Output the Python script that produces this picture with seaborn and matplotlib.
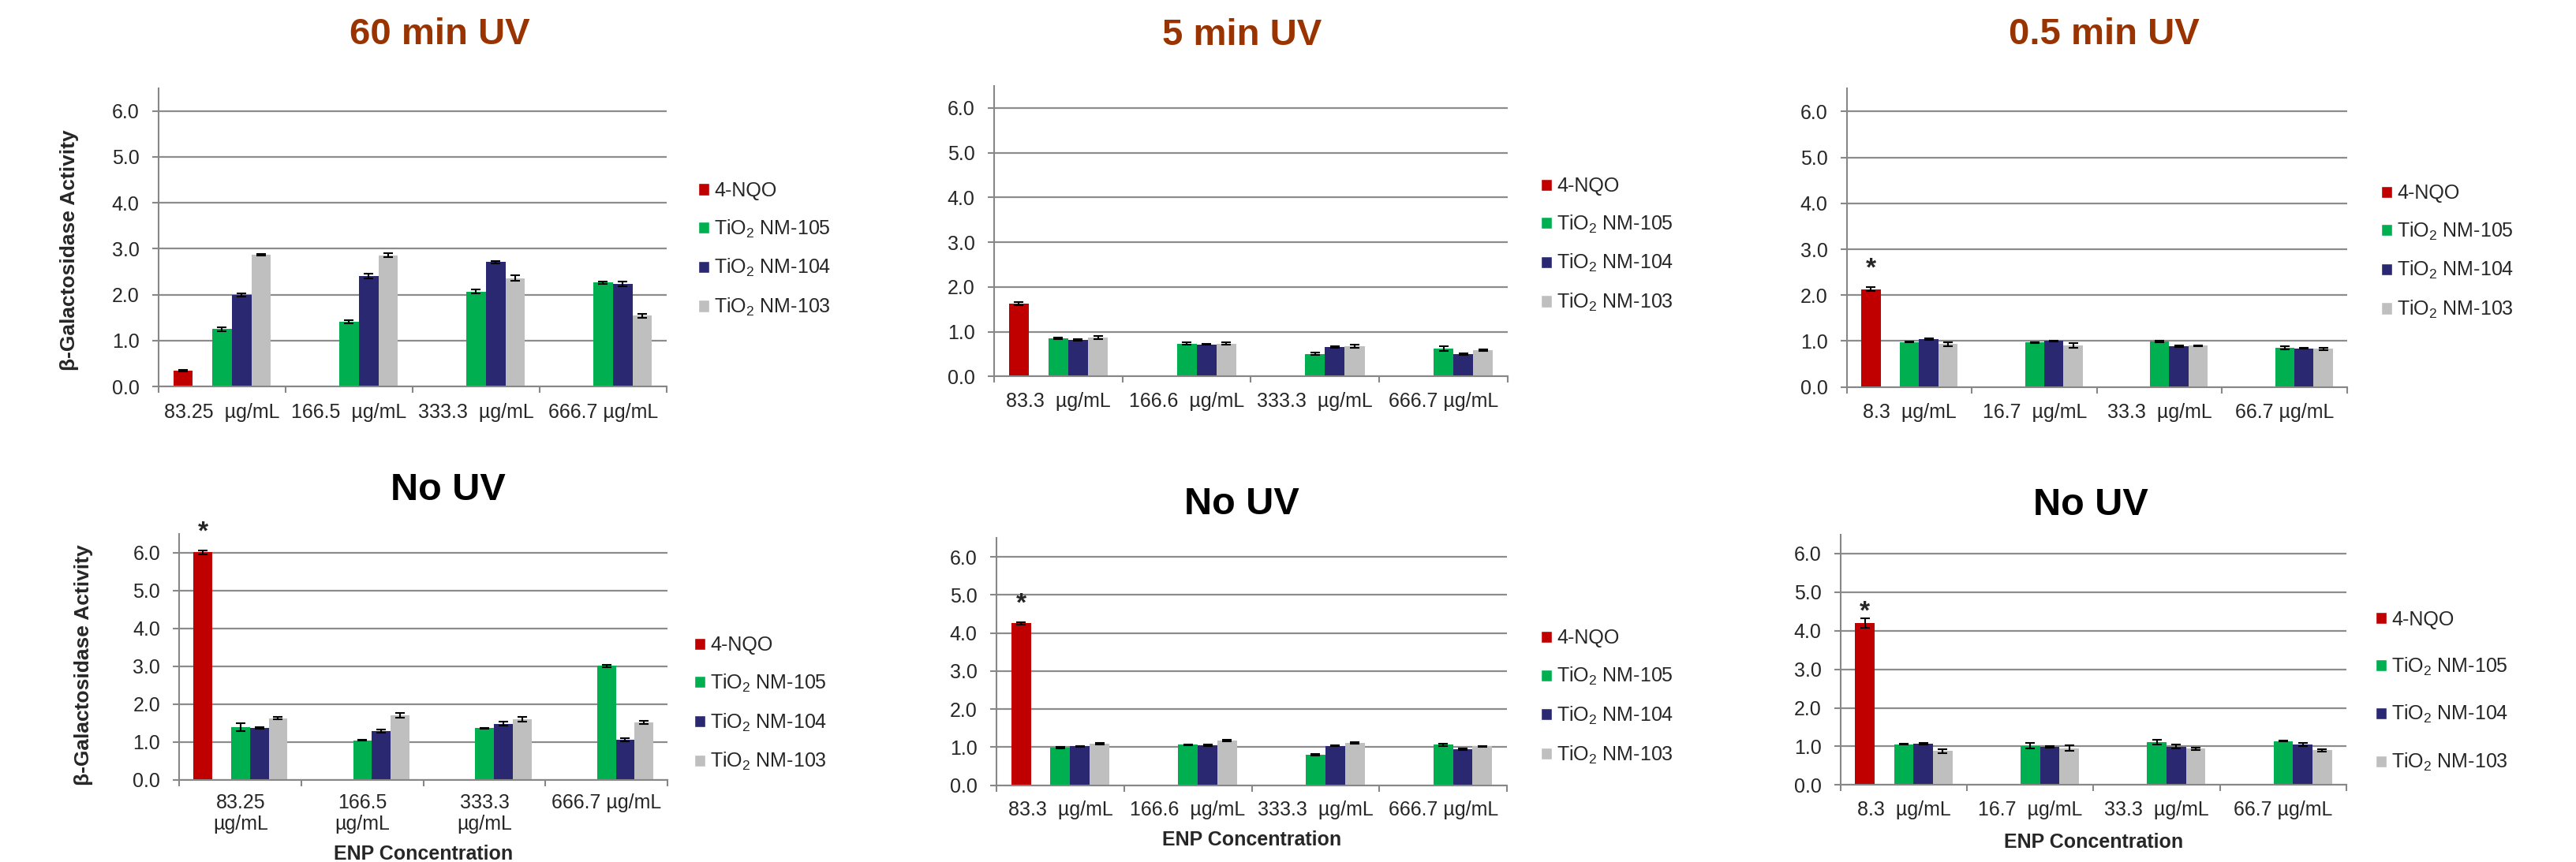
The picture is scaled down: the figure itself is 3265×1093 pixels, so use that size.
import numpy as np
import pandas as pd
import matplotlib.pyplot as plt
import seaborn as sns
from matplotlib.patches import Patch
from matplotlib.ticker import FormatStrFormatter, FixedLocator

# Settings
sns.set_style("ticks")
plt.rcParams['font.family'] = ['Liberation Sans', 'DejaVu Sans']
plt.rcParams['mathtext.fontset'] = 'custom'
plt.rcParams['mathtext.rm'] = 'Liberation Sans'
plt.rcParams['mathtext.it'] = 'Liberation Sans:italic'
plt.rcParams['mathtext.bf'] = 'Liberation Sans:bold'

# Series
series = ["4-NQO", "TiO2 NM-105", "TiO2 NM-104", "TiO2 NM-103"]
legend_labels = ["4-NQO", "TiO$_2$ NM-105", "TiO$_2$ NM-104", "TiO$_2$ NM-103"]
spacer = " "  # empty slot between 4-NQO and the TiO2 bars

# Concentration labels
conc_60 = ["83.25  µg/mL", "166.5  µg/mL", "333.3  µg/mL", "666.7 µg/mL"]
conc_5 = ["83.3  µg/mL", "166.6  µg/mL", "333.3  µg/mL", "666.7 µg/mL"]
conc_05 = ["8.3  µg/mL", "16.7  µg/mL", "33.3  µg/mL", "66.7 µg/mL"]
conc_60_wrap = ["83.25\nµg/mL", "166.5\nµg/mL", "333.3\nµg/mL", "666.7 µg/mL"]

# 60 min UV
uv60_nqo = [0.34]
uv60_nqo_err = [0.02]
uv60_105 = [1.25, 1.41, 2.07, 2.26]
uv60_105_err = [0.04, 0.04, 0.04, 0.03]
uv60_104 = [1.99, 2.41, 2.71, 2.24]
uv60_104_err = [0.03, 0.05, 0.03, 0.05]
uv60_103 = [2.87, 2.86, 2.36, 1.54]
uv60_103_err = [0.02, 0.05, 0.06, 0.04]

# 5 min UV
uv5_nqo = [1.63]
uv5_nqo_err = [0.04]
uv5_105 = [0.85, 0.74, 0.51, 0.62]
uv5_105_err = [0.02, 0.02, 0.03, 0.05]
uv5_104 = [0.82, 0.72, 0.66, 0.50]
uv5_104_err = [0.01, 0.01, 0.02, 0.02]
uv5_103 = [0.87, 0.74, 0.68, 0.59]
uv5_103_err = [0.03, 0.03, 0.03, 0.01]

# 0.5 min UV
uv05_nqo = [2.13]
uv05_nqo_err = [0.04]
uv05_105 = [0.98, 0.97, 0.99, 0.85]
uv05_105_err = [0.01, 0.01, 0.01, 0.03]
uv05_104 = [1.04, 1.00, 0.89, 0.84]
uv05_104_err = [0.02, 0.01, 0.02, 0.01]
uv05_103 = [0.93, 0.90, 0.90, 0.83]
uv05_103_err = [0.05, 0.05, 0.01, 0.03]

# No UV (for 60 min set)
nouv_a_nqo = [6.01]
nouv_a_nqo_err = [0.05]
nouv_a_105 = [1.39, 1.05, 1.37, 3.01]
nouv_a_105_err = [0.10, 0.02, 0.01, 0.03]
nouv_a_104 = [1.37, 1.29, 1.48, 1.06]
nouv_a_104_err = [0.02, 0.04, 0.05, 0.05]
nouv_a_103 = [1.63, 1.70, 1.61, 1.52]
nouv_a_103_err = [0.03, 0.06, 0.06, 0.05]

# No UV (for 5 min set)
nouv_b_nqo = [4.25]
nouv_b_nqo_err = [0.04]
nouv_b_105 = [0.99, 1.06, 0.79, 1.06]
nouv_b_105_err = [0.02, 0.01, 0.02, 0.03]
nouv_b_104 = [1.02, 1.05, 1.03, 0.94]
nouv_b_104_err = [0.01, 0.02, 0.01, 0.02]
nouv_b_103 = [1.08, 1.17, 1.10, 1.02]
nouv_b_103_err = [0.02, 0.02, 0.02, 0.01]

# No UV (for 0.5 min set)
nouv_c_nqo = [4.20]
nouv_c_nqo_err = [0.13]
nouv_c_105 = [1.05, 1.01, 1.11, 1.14]
nouv_c_105_err = [0.01, 0.07, 0.06, 0.01]
nouv_c_104 = [1.07, 0.98, 0.99, 1.04]
nouv_c_104_err = [0.03, 0.02, 0.05, 0.04]
nouv_c_103 = [0.88, 0.95, 0.94, 0.90]
nouv_c_103_err = [0.05, 0.07, 0.03, 0.03]

# Colours
palette = {series[0]: '#C00000', spacer: '#FFFFFF', series[1]: '#00B050',
           series[2]: '#2A2870', series[3]: '#BFBFBF'}
hue_order = [series[0], spacer, series[1], series[2], series[3]]
BAR_WIDTH = 0.77
BROWN = '#993300'
GRID = '#8C8C8C'
AXIS = '#878787'


def make_df(labels, nqo, nqo_err, s105, e105, s104, e104, s103, e103):
    rows = [(labels[0], series[0], nqo[0], nqo_err[0], 0)]
    for name, vals, errs in [(series[1], s105, e105), (series[2], s104, e104), (series[3], s103, e103)]:
        for i, (v, e) in enumerate(zip(vals, errs)):
            rows.append((labels[i], name, v, e, i))
    return pd.DataFrame(rows, columns=['conc', 'series', 'value', 'err', 'idx'])


W, H = 3266, 1093


def rect(left, right, top, bottom):
    return [left / W, 1 - bottom / H, (right - left) / W, (bottom - top) / H]


panels = [
    dict(title="60 min UV", color=BROWN, tsize=34, tpos=(557, 55.5), box=(201, 845, 111.7, 490),
         labels=conc_60, leg=(885, 316.5), lspace=0.9, ylab=(88, 317.5), xlab=None, star=None, xpad=15,
         data=make_df(conc_60, uv60_nqo, uv60_nqo_err, uv60_105, uv60_105_err,
                      uv60_104, uv60_104_err, uv60_103, uv60_103_err)),
    dict(title="5 min UV", color=BROWN, tsize=34, tpos=(1574, 57), box=(1260, 1911, 108.6, 477.5),
         labels=conc_5, leg=(1953, 310.5), lspace=0.9, ylab=None, xlab=None, star=None, xpad=14,
         data=make_df(conc_5, uv5_nqo, uv5_nqo_err, uv5_105, uv5_105_err,
                      uv5_104, uv5_104_err, uv5_103, uv5_103_err)),
    dict(title="0.5 min UV", color=BROWN, tsize=34, tpos=(2667, 56), box=(2341, 2975, 112.3, 490.6),
         labels=conc_05, leg=(3018, 319.5), lspace=0.9, ylab=None, xlab=None, star=16.5, xpad=15,
         data=make_df(conc_05, uv05_nqo, uv05_nqo_err, uv05_105, uv05_105_err,
                      uv05_104, uv05_104_err, uv05_103, uv05_103_err)),
    dict(title="No UV", color='black', tsize=35, tpos=(568, 634), box=(227.5, 846, 676.6, 989),
         labels=conc_60_wrap, leg=(880, 892.7), lspace=0.9, ylab=(106, 843), xlab=(537, 1083), star=16.5, xpad=12,
         data=make_df(conc_60_wrap, nouv_a_nqo, nouv_a_nqo_err, nouv_a_105, nouv_a_105_err,
                      nouv_a_104, nouv_a_104_err, nouv_a_103, nouv_a_103_err)),
    dict(title="No UV", color='black', tsize=35, tpos=(1574, 651.7), box=(1263, 1910, 681.9, 995.5),
         labels=conc_5, leg=(1953, 884), lspace=0.9, ylab=None, xlab=(1587, 1065), star=16.5, xpad=14,
         data=make_df(conc_5, nouv_b_nqo, nouv_b_nqo_err, nouv_b_105, nouv_b_105_err,
                      nouv_b_104, nouv_b_104_err, nouv_b_103, nouv_b_103_err)),
    dict(title="No UV", color='black', tsize=35, tpos=(2650, 653.4), box=(2333, 2974, 677.5, 995.3),
         labels=conc_05, leg=(3011, 877), lspace=1.35, ylab=None, xlab=(2654, 1068), star=5.5, xpad=14,
         data=make_df(conc_05, nouv_c_nqo, nouv_c_nqo_err, nouv_c_105, nouv_c_105_err,
                      nouv_c_104, nouv_c_104_err, nouv_c_103, nouv_c_103_err)),
]

fig = plt.figure(figsize=(W / 100, H / 100), dpi=100)

for p in panels:
    ax = fig.add_axes(rect(*p['box']))
    df = p['data']
    sns.barplot(data=df, x='conc', y='value', hue='series', order=p['labels'], hue_order=hue_order,
                palette=palette, width=BAR_WIDTH, saturation=1, errorbar=None, legend=False,
                linewidth=0, ax=ax)

    # error bars (SE): find the series of each bar from its slot in the group
    errs = df.set_index(['series', 'idx'])['err']
    slot = BAR_WIDTH / len(hue_order)
    nqo_bar = None
    for cont in list(ax.containers):
        for bar in cont:
            cx = bar.get_x() + bar.get_width() / 2
            i = int(round(cx))
            name = hue_order[int(round((cx - i) / slot + (len(hue_order) - 1) / 2))]
            if (name, i) not in errs.index:
                continue
            e = errs[(name, i)]
            ax.errorbar(cx, bar.get_height(), yerr=e, fmt='none', ecolor='black',
                        elinewidth=1.5, capsize=4.3, capthick=1.5, zorder=3)
            if name == series[0]:
                nqo_bar = (cx, bar.get_height() + e)

    # significance star on 4-NQO
    if p['star'] is not None and nqo_bar is not None:
        ax.annotate('*', xy=nqo_bar, xytext=(0, p['star']), textcoords='offset points',
                    ha='center', va='center', fontsize=24, fontweight='bold', annotation_clip=False)

    ax.set_xlim(-0.5, 3.5)
    ax.set_ylim(0, 6.5)
    ax.set_yticks([0, 1, 2, 3, 4, 5, 6])
    ax.yaxis.set_major_formatter(FormatStrFormatter('%.1f'))
    ax.xaxis.set_minor_locator(FixedLocator([-0.5, 0.5, 1.5, 2.5, 3.5]))
    ax.tick_params(axis='x', which='major', length=0, pad=p['xpad'], labelsize=18)
    ax.tick_params(axis='x', which='minor', length=6, width=1.5, color=AXIS, direction='out')
    ax.tick_params(axis='y', length=6, width=1.5, color=AXIS, pad=11.5, labelsize=18, direction='out')
    ax.grid(axis='y', color=GRID, linewidth=1.6)
    ax.set_axisbelow(True)
    for s in ['top', 'right']:
        ax.spines[s].set_visible(False)
    for s in ['left', 'bottom']:
        ax.spines[s].set_color(AXIS)
        ax.spines[s].set_linewidth(1.5)
    ax.set_xlabel('')
    ax.set_ylabel('')

    handles = [Patch(facecolor=palette[s], label=l) for s, l in zip(series, legend_labels)]
    ax.legend(handles=handles, loc='center left', bbox_to_anchor=(p['leg'][0] / W, 1 - p['leg'][1] / H),
              bbox_transform=fig.transFigure, frameon=False, fontsize=18, handlelength=0.56,
              handleheight=0.56, handletextpad=0.25, labelspacing=p['lspace'], borderpad=0, borderaxespad=0)

    fig.text(p['tpos'][0] / W, 1 - p['tpos'][1] / H, p['title'], ha='center', va='baseline',
             fontsize=p['tsize'], fontweight='bold', color=p['color'])
    if p['ylab'] is not None:
        fig.text(p['ylab'][0] / W, 1 - p['ylab'][1] / H, 'β-Galactosidase Activity', rotation=90,
                 ha='center', va='center', fontsize=19, fontweight='bold')
    if p['xlab'] is not None:
        fig.text(p['xlab'][0] / W, 1 - p['xlab'][1] / H, 'ENP Concentration', ha='center', va='center',
                 fontsize=18, fontweight='bold')

fig.savefig('out.png', dpi=100)
plt.close()
